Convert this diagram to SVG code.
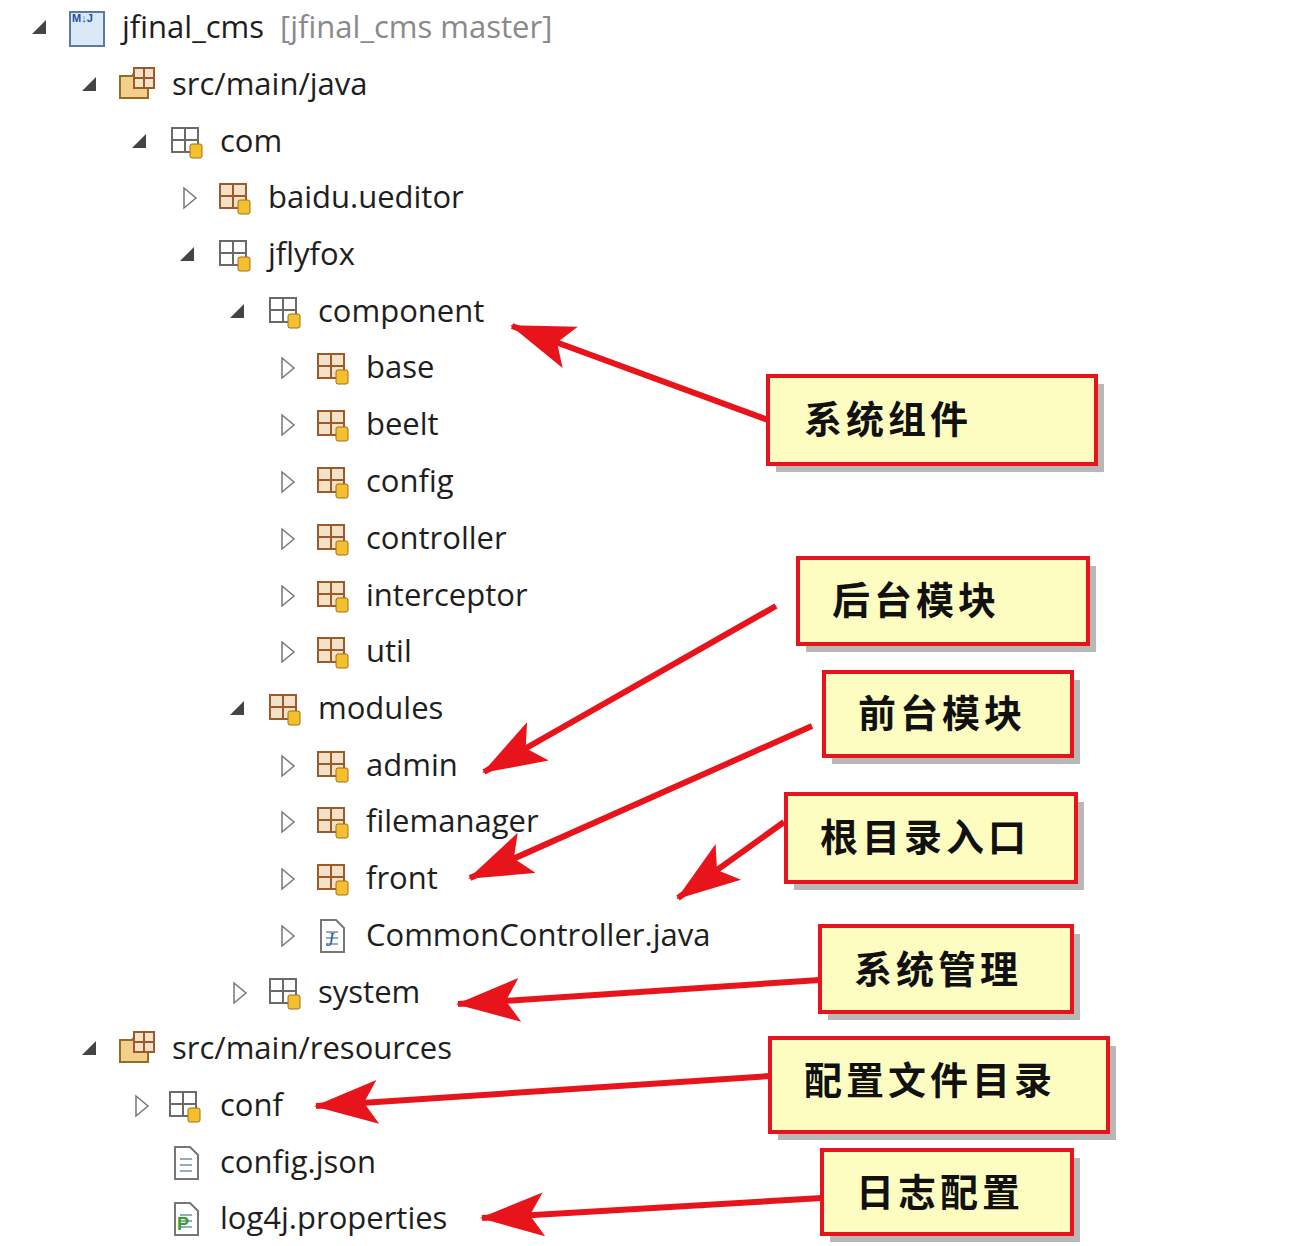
<svg xmlns="http://www.w3.org/2000/svg" width="1292" height="1246" viewBox="0 0 1292 1246">
<style>
.t{font-family:"Open Sans","Noto Sans",sans-serif;font-size:31px;fill:#1e1e1e}
.g{fill:#8a8a8a}
.box{fill:#fdfdc2;stroke:#e8141b;stroke-width:4}
.sh{fill:#b8b8b8}
.c{font-family:"Noto Sans CJK SC",sans-serif;font-size:38px;font-weight:bold;fill:#111;letter-spacing:4px}
.ar{stroke:#e8141b;stroke-width:6;fill:none;marker-end:url(#ah)}
.ex{fill:#444}
.co{fill:none;stroke:#777;stroke-width:1.5}
</style>
<defs>
<marker id="ah" markerUnits="userSpaceOnUse" markerWidth="70" markerHeight="50" refX="62" refY="22" orient="auto">
<path d="M0,0 L64,22 L0,44 L14,22 Z" fill="#e8141b"/>
</marker>
<symbol id="pk" viewBox="0 0 34 36" overflow="visible">
<rect x="2" y="4" width="26" height="24" fill="#f3e2c8" stroke="#9a5a2a" stroke-width="2"/>
<path d="M15,4 V28 M2,16 H28" stroke="#9a5a2a" stroke-width="2"/>
<rect x="20" y="20" width="12" height="14" rx="2" fill="#f5c030" stroke="#a07010"/>
</symbol>
<symbol id="pe" viewBox="0 0 34 36" overflow="visible">
<rect x="2" y="4" width="26" height="24" fill="#fff" stroke="#6a6a6a" stroke-width="2"/>
<path d="M15,4 V28 M2,16 H28" stroke="#6a6a6a" stroke-width="2"/>
<rect x="20" y="20" width="12" height="14" rx="2" fill="#f5c030" stroke="#a07010"/>
</symbol>
<symbol id="sf" viewBox="0 0 40 36" overflow="visible">
<path d="M2,10 H14 L17,6 H30 V32 H2 Z" fill="#f2cf8a" stroke="#9a6a20" stroke-width="2"/>
<rect x="16" y="2" width="20" height="20" fill="#f3e2c8" stroke="#9a5a2a" stroke-width="2"/>
<path d="M26,2 V22 M16,12 H36" stroke="#9a5a2a" stroke-width="2"/>
</symbol>
<symbol id="fl" viewBox="0 0 30 36" overflow="visible">
<path d="M3,2 H18 L26,10 V34 H3 Z" fill="#fff" stroke="#777" stroke-width="2"/>
<path d="M8,14 H20 M8,20 H20 M8,26 H20" stroke="#9ab" stroke-width="2"/>
</symbol>
</defs>
<rect width="1292" height="1246" fill="#fff"/>

<g id="tree">
<polygon class="ex" points="46,20 46,34 32,34"/>
<polygon class="ex" points="96,77 96,91 82,91"/>
<polygon class="ex" points="146,134 146,148 132,148"/>
<polygon class="co" points="184,188 196,198 184,208"/>
<polygon class="ex" points="194,247 194,261 180,261"/>
<polygon class="ex" points="244,304 244,318 230,318"/>
<polygon class="co" points="282,358 294,368 282,378"/>
<polygon class="co" points="282,415 294,425 282,435"/>
<polygon class="co" points="282,472 294,482 282,492"/>
<polygon class="co" points="282,529 294,539 282,549"/>
<polygon class="co" points="282,586 294,596 282,606"/>
<polygon class="co" points="282,642 294,652 282,662"/>
<polygon class="ex" points="244,701 244,715 230,715"/>
<polygon class="co" points="282,756 294,766 282,776"/>
<polygon class="co" points="282,812 294,822 282,832"/>
<polygon class="co" points="282,869 294,879 282,889"/>
<polygon class="co" points="282,926 294,936 282,946"/>
<polygon class="co" points="234,983 246,993 234,1003"/>
<polygon class="ex" points="96,1041 96,1055 82,1055"/>
<polygon class="co" points="136,1096 148,1106 136,1116"/>
<path d="M70,12 H104 V46 H70 Z" fill="#dbe8f5" stroke="#5a7aa0" stroke-width="2"/>
<text x="72" y="22" font-family="Liberation Sans,sans-serif" font-size="11" font-weight="bold" fill="#2050a0">M↓J</text>
<use href="#sf" x="118" y="66" width="40" height="36"/>
<use href="#pe" x="170" y="124" width="34" height="36"/>
<use href="#pk" x="218" y="180" width="34" height="36"/>
<use href="#pe" x="218" y="237" width="34" height="36"/>
<use href="#pe" x="268" y="294" width="34" height="36"/>
<use href="#pk" x="316" y="350" width="34" height="36"/>
<use href="#pk" x="316" y="407" width="34" height="36"/>
<use href="#pk" x="316" y="464" width="34" height="36"/>
<use href="#pk" x="316" y="521" width="34" height="36"/>
<use href="#pk" x="316" y="578" width="34" height="36"/>
<use href="#pk" x="316" y="634" width="34" height="36"/>
<use href="#pk" x="268" y="691" width="34" height="36"/>
<use href="#pk" x="316" y="748" width="34" height="36"/>
<use href="#pk" x="316" y="804" width="34" height="36"/>
<use href="#pk" x="316" y="861" width="34" height="36"/>
<use href="#fl" x="318" y="918" width="30" height="36"/>
<text x="326" y="946" font-family="Liberation Serif,serif" font-size="18" font-style="italic" fill="#2060b0">J</text>
<use href="#pe" x="268" y="975" width="34" height="36"/>
<use href="#sf" x="118" y="1030" width="40" height="36"/>
<use href="#pe" x="168" y="1088" width="34" height="36"/>
<use href="#fl" x="172" y="1145" width="30" height="36"/>
<use href="#fl" x="172" y="1201" width="30" height="36"/>
<text x="177" y="1230" font-family="Liberation Sans,sans-serif" font-size="18" font-weight="bold" fill="#30a030">P</text>
<text class="t" x="122" y="38">jfinal_cms <tspan class="g" dx="8">[jfinal_cms master]</tspan></text>
<text class="t" x="172" y="95">src/main/java</text>
<text class="t" x="220" y="152">com</text>
<text class="t" x="268" y="208">baidu.ueditor</text>
<text class="t" x="268" y="265">jflyfox</text>
<text class="t" x="318" y="322">component</text>
<text class="t" x="366" y="378">base</text>
<text class="t" x="366" y="435">beelt</text>
<text class="t" x="366" y="492">config</text>
<text class="t" x="366" y="549">controller</text>
<text class="t" x="366" y="606">interceptor</text>
<text class="t" x="366" y="662">util</text>
<text class="t" x="318" y="719">modules</text>
<text class="t" x="366" y="776">admin</text>
<text class="t" x="366" y="832">filemanager</text>
<text class="t" x="366" y="889">front</text>
<text class="t" x="366" y="946">CommonController.java</text>
<text class="t" x="318" y="1003">system</text>
<text class="t" x="172" y="1059">src/main/resources</text>
<text class="t" x="220" y="1116">conf</text>
<text class="t" x="220" y="1173">config.json</text>
<text class="t" x="220" y="1229">log4j.properties</text>
</g>

<g id="connectors">
<line class="ar" x1="768" y1="420" x2="512" y2="326"/>
<line class="ar" x1="776" y1="606" x2="484" y2="772"/>
<line class="ar" x1="812" y1="726" x2="470" y2="878"/>
<line class="ar" x1="784" y1="822" x2="678" y2="898"/>
<line class="ar" x1="820" y1="980" x2="458" y2="1004"/>
<line class="ar" x1="770" y1="1076" x2="316" y2="1106"/>
<line class="ar" x1="822" y1="1198" x2="482" y2="1218"/>
</g>

<g id="c1"><rect class="sh" x="776" y="384" width="328" height="88"/><rect class="box" x="768" y="376" width="328" height="88"/><text class="c" x="804" y="433">系统组件</text></g>
<g id="c2"><rect class="sh" x="806" y="566" width="290" height="86"/><rect class="box" x="798" y="558" width="290" height="86"/><text class="c" x="832" y="614">后台模块</text></g>
<g id="c3"><rect class="sh" x="832" y="680" width="248" height="84"/><rect class="box" x="824" y="672" width="248" height="84"/><text class="c" x="858" y="727">前台模块</text></g>
<g id="c4"><rect class="sh" x="794" y="802" width="290" height="88"/><rect class="box" x="786" y="794" width="290" height="88"/><text class="c" x="820" y="851">根目录入口</text></g>
<g id="c5"><rect class="sh" x="828" y="934" width="252" height="86"/><rect class="box" x="820" y="926" width="252" height="86"/><text class="c" x="854" y="983">系统管理</text></g>
<g id="c6"><rect class="sh" x="778" y="1046" width="338" height="94"/><rect class="box" x="770" y="1038" width="338" height="94"/><text class="c" x="804" y="1094">配置文件目录</text></g>
<g id="c7"><rect class="sh" x="830" y="1158" width="250" height="84"/><rect class="box" x="822" y="1150" width="250" height="84"/><text class="c" x="856" y="1206">日志配置</text></g>
</svg>
